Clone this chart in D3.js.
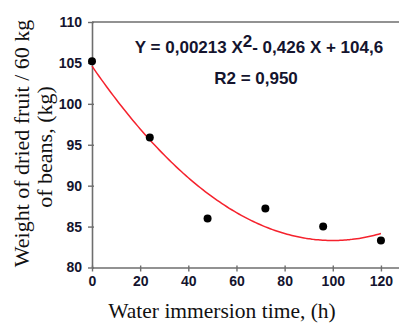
<!DOCTYPE html>
<html>
<head>
<meta charset="utf-8">
<script src="https://cdn.jsdelivr.net/npm/d3@7"></script>
<style>
  body { margin: 0; background: #fff; }
  svg { display: block; }
</style>
</head>
<body>
<div id="chart"></div>
<script>
// measured points (h, kg)
const hours = [0, 24, 48, 72, 96, 120];
const weights = [105.2, 95.9, 86.0, 87.2, 85.0, 83.3];

// fitted curve Y = a X^2 + b X + c, as printed on the chart
const coeffs = [0.00213, -0.426, 104.6];
const curveRange = [0, 120];

const xTicks = [0, 20, 40, 60, 80, 100, 120];
const yTicks = [80, 85, 90, 95, 100, 105, 110];

const width = 399;
const height = 323;

const svg = d3.select('#chart')
  .append('svg')
  .attr('width', width)
  .attr('height', height);

const x = d3.scaleLinear()
  .domain([0, 127.5])
  .range([92, 399]);

const y = d3.scaleLinear()
  .domain([80, 110])
  .range([267.5, 22]);

const axisColor = '#6e6e6e';
const labelColor = '#14142e';

// top frame line
svg.append('line')
  .attr('x1', x(0)).attr('x2', width)
  .attr('y1', y(110)).attr('y2', y(110))
  .attr('stroke', axisColor)
  .attr('stroke-width', 1.6);

const xAxis = svg.append('g')
  .attr('transform', `translate(0,${y(80)})`)
  .call(d3.axisBottom(x).tickValues(xTicks).tickSizeInner(4).tickSizeOuter(0).tickPadding(5));

const yAxis = svg.append('g')
  .attr('transform', `translate(${x(0)},0)`)
  .call(d3.axisLeft(y).tickValues(yTicks).tickSizeInner(4).tickSizeOuter(0).tickPadding(6));

[xAxis, yAxis].forEach((g) => {
  g.select('.domain').attr('stroke', axisColor).attr('stroke-width', 1.6);
  g.selectAll('.tick line').attr('stroke', axisColor).attr('stroke-width', 1.4);
  g.selectAll('.tick text')
    .attr('fill', labelColor)
    .style('font-family', '"Liberation Sans", Arial, sans-serif')
    .style('font-weight', 'bold')
    .style('font-size', '14px');
});
// ticks poke through the axis line a little
xAxis.selectAll('.tick line').attr('y1', -2);
yAxis.selectAll('.tick line').attr('x1', 2);

// fitted curve
const curveData = d3.range(curveRange[0], curveRange[1] + 0.5, 1)
  .map((h) => [h, coeffs[0] * h * h + coeffs[1] * h + coeffs[2]]);

svg.append('path')
  .datum(curveData)
  .attr('fill', 'none')
  .attr('stroke', '#f5222d')
  .attr('stroke-width', 1.5)
  .attr('d', d3.line()
    .x((d) => x(d[0]))
    .y((d) => y(d[1]))
    .curve(d3.curveMonotoneX));

// measured points
svg.append('g')
  .selectAll('circle')
  .data(hours)
  .enter()
  .append('circle')
    .attr('cx', (d) => x(d))
    .attr('cy', (d, i) => y(weights[i]))
    .attr('r', 4)
    .attr('fill', '#000');

// equation
const eq = svg.append('text')
  .attr('x', 259)
  .attr('y', 52.5)
  .attr('text-anchor', 'middle')
  .attr('fill', labelColor)
  .style('font-family', '"Liberation Sans", Arial, sans-serif')
  .style('font-weight', 'bold')
  .style('font-size', '17px');
eq.append('tspan').text('Y = 0,00213 X');
eq.append('tspan').attr('dy', -6).text('2');
eq.append('tspan').attr('dy', 6).text('- 0,426 X + 104,6');

svg.append('text')
  .attr('x', 256)
  .attr('y', 83.5)
  .attr('text-anchor', 'middle')
  .attr('fill', labelColor)
  .style('font-family', '"Liberation Sans", Arial, sans-serif')
  .style('font-weight', 'bold')
  .style('font-size', '17px')
  .text('R2 = 0,950');

// axis titles
svg.append('text')
  .attr('x', 222)
  .attr('y', 318)
  .attr('text-anchor', 'middle')
  .attr('fill', '#111')
  .style('font-family', '"Liberation Serif", "Times New Roman", serif')
  .style('font-size', '21.5px')
  .text('Water immersion time, (h)');

svg.append('text')
  .attr('transform', 'translate(29,143.5) rotate(-90)')
  .attr('text-anchor', 'middle')
  .attr('fill', '#111')
  .style('font-family', '"Liberation Serif", "Times New Roman", serif')
  .style('font-size', '22px')
  .text('Weight of dried fruit / 60 kg');

svg.append('text')
  .attr('transform', 'translate(52,147) rotate(-90)')
  .attr('text-anchor', 'middle')
  .attr('fill', '#111')
  .style('font-family', '"Liberation Serif", "Times New Roman", serif')
  .style('font-size', '22px')
  .text('of beans, (kg)');
</script>
</body>
</html>
